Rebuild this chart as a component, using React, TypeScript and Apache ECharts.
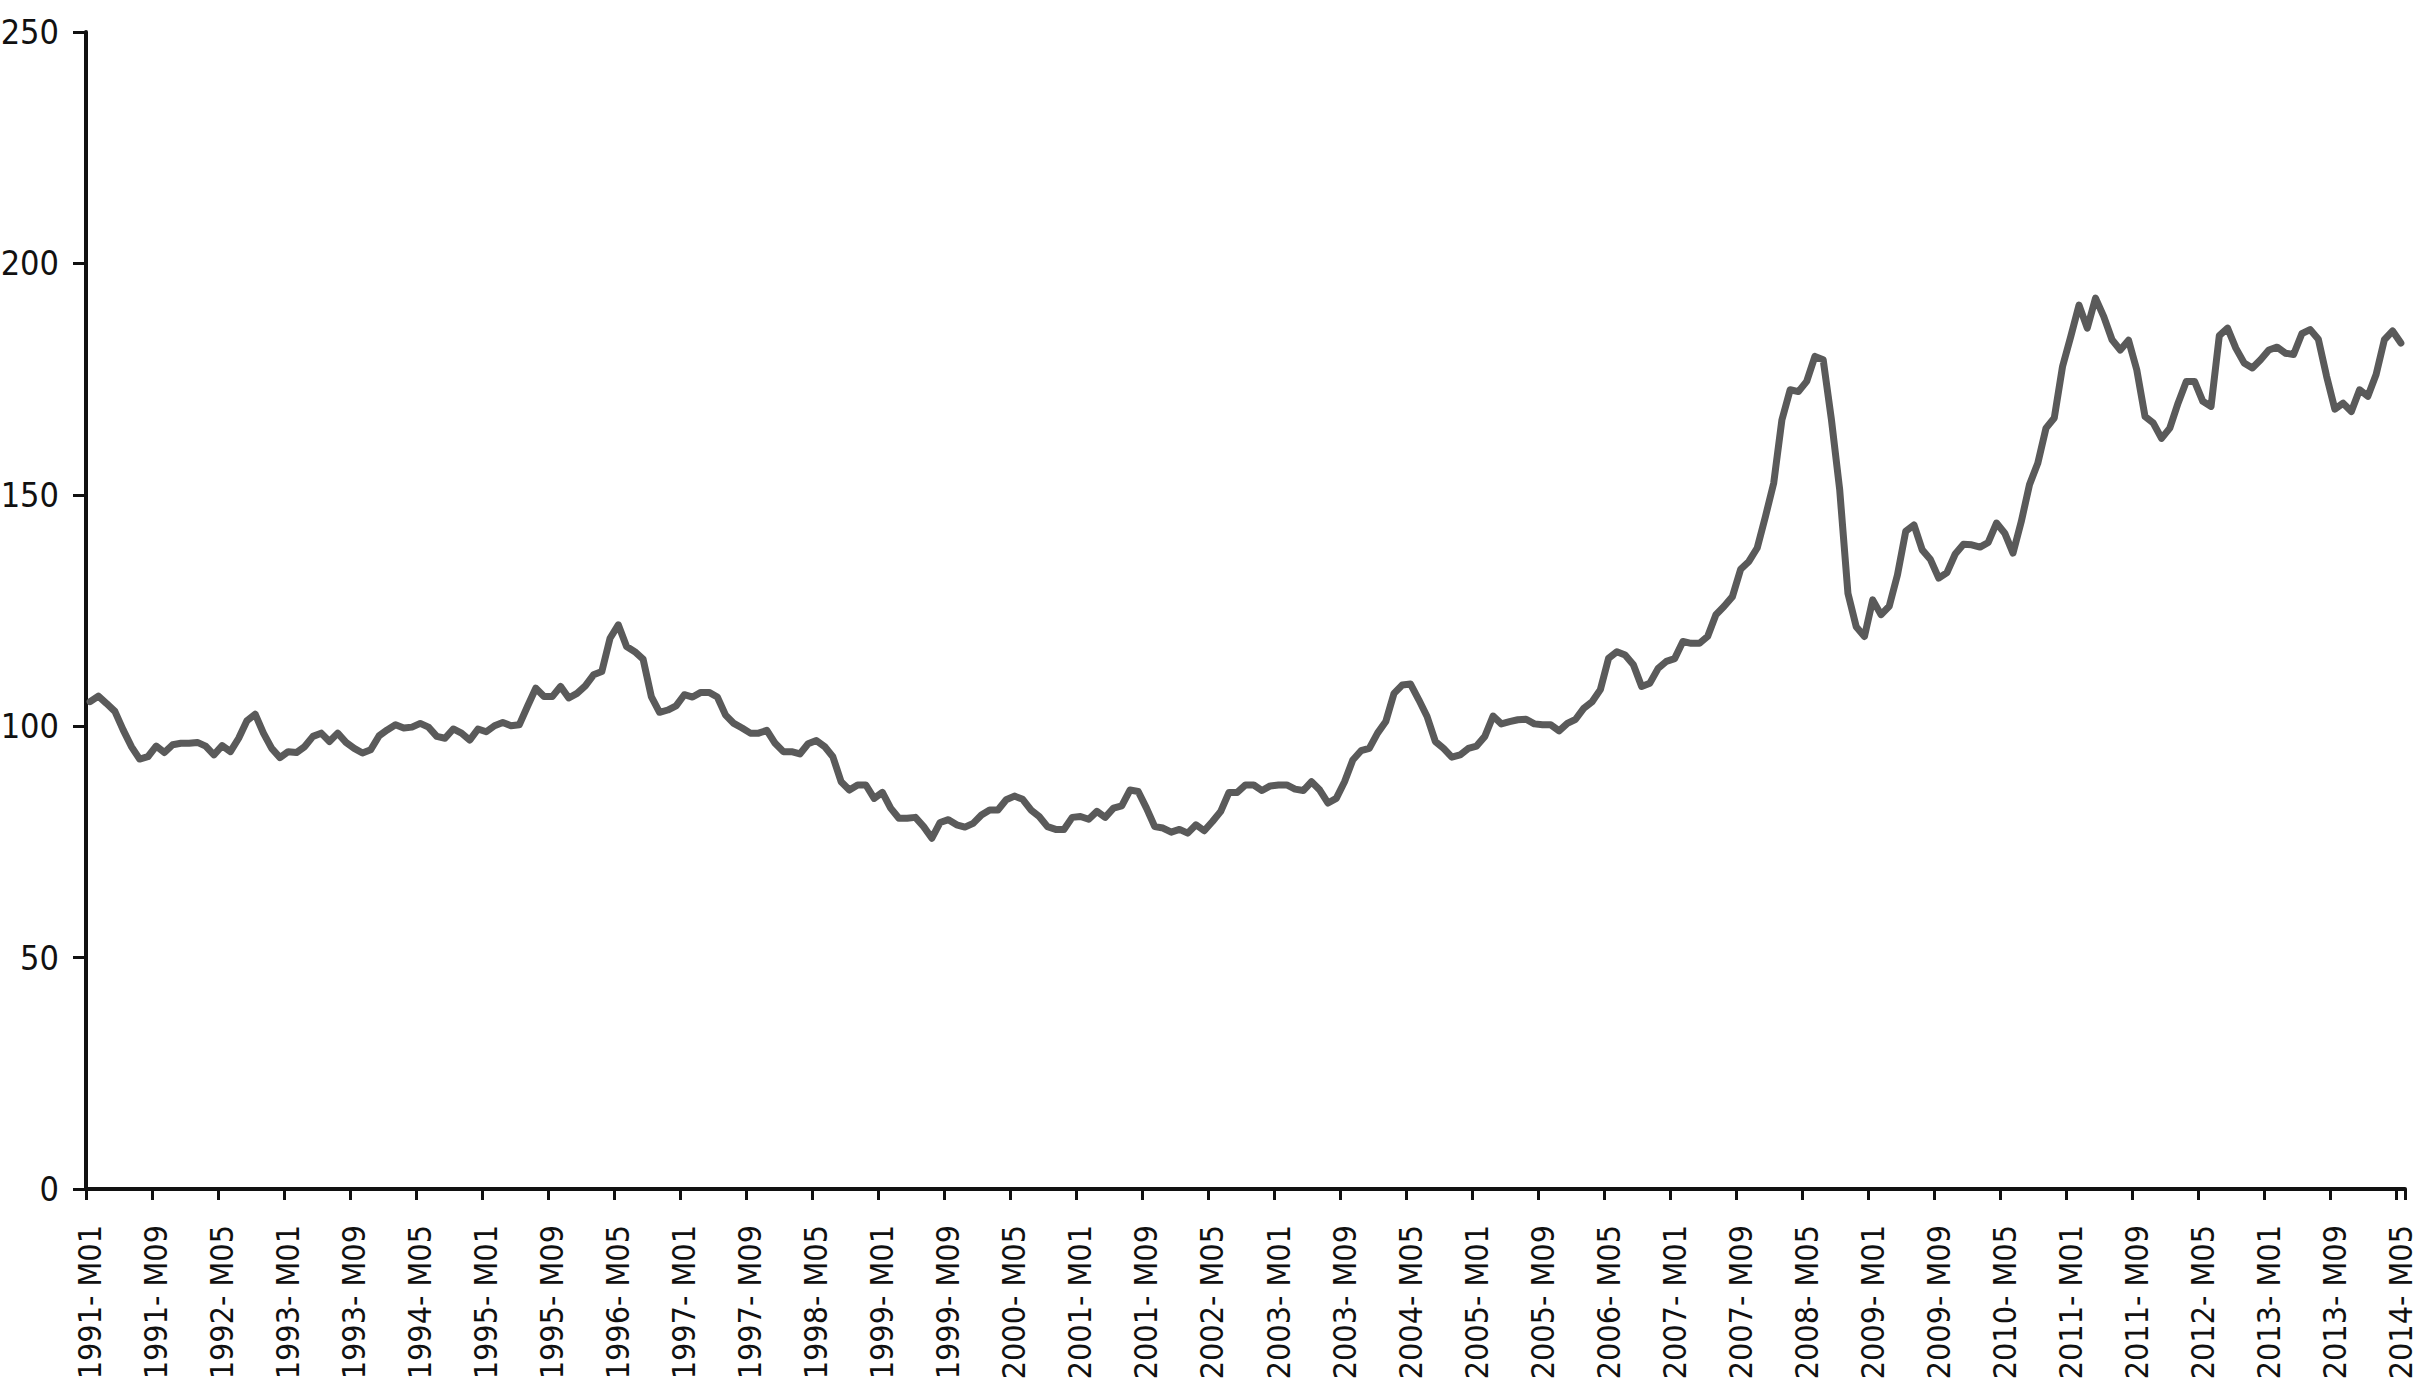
import React, { useEffect, useRef } from "react";
import * as echarts from "echarts";

// Monthly index values (1991-M01 .. 2014-M05)
const v1991 = [105.3, 106.5, 104.9, 103.2, 99.2, 95.6, 92.9, 93.4, 95.7, 94.3, 96.0, 96.3];
const v1992 = [96.3, 96.5, 95.7, 93.8, 95.8, 94.5, 97.4, 101.2, 102.6, 98.5, 95.2, 93.2];
const v1993 = [94.5, 94.3, 95.6, 97.8, 98.5, 96.7, 98.5, 96.5, 95.2, 94.2, 94.9, 97.9];
const v1994 = [99.2, 100.3, 99.6, 99.8, 100.6, 99.8, 97.8, 97.4, 99.4, 98.5, 97.0, 99.4];
const v1995 = [98.8, 100.1, 100.8, 100.1, 100.3, 104.3, 108.2, 106.4, 106.4, 108.6, 106.1, 107.1];
const v1996 = [108.7, 111.1, 111.8, 119.0, 121.9, 117.2, 116.1, 114.5, 106.4, 103.0, 103.5, 104.4];
const v1997 = [106.8, 106.3, 107.3, 107.3, 106.3, 102.4, 100.6, 99.6, 98.5, 98.5, 99.1, 96.3];
const v1998 = [94.5, 94.5, 94.0, 96.2, 96.9, 95.6, 93.4, 88.0, 86.2, 87.3, 87.3, 84.4];
const v1999 = [85.7, 82.3, 80.1, 80.1, 80.3, 78.3, 75.8, 79.2, 79.8, 78.7, 78.2, 79.0];
const v2000 = [80.8, 81.9, 81.9, 84.1, 84.9, 84.2, 81.9, 80.5, 78.3, 77.7, 77.7, 80.3];
const v2001 = [80.5, 79.9, 81.6, 80.3, 82.3, 82.8, 86.2, 85.9, 82.3, 78.3, 78.0, 77.1];
const v2002 = [77.7, 76.9, 78.7, 77.4, 79.4, 81.6, 85.7, 85.7, 87.3, 87.3, 86.1, 87.1];
const v2003 = [87.3, 87.3, 86.4, 86.1, 88.0, 86.2, 83.4, 84.4, 88.0, 92.7, 94.7, 95.2];
const v2004 = [98.5, 101.0, 107.1, 108.9, 109.1, 105.7, 102.1, 96.7, 95.2, 93.3, 93.8, 95.2];
const v2005 = [95.7, 97.8, 102.2, 100.5, 101.0, 101.4, 101.5, 100.5, 100.3, 100.3, 99.0, 100.6];
const v2006 = [101.5, 103.9, 105.3, 107.9, 114.7, 116.1, 115.4, 113.3, 108.6, 109.3, 112.5, 114.0];
const v2007 = [114.6, 118.3, 117.9, 117.9, 119.4, 124.1, 125.9, 128.0, 133.9, 135.6, 138.5, 145.3];
const v2008 = [152.5, 166.2, 172.7, 172.3, 174.5, 179.9, 179.2, 166.2, 151.1, 128.7, 121.5, 119.4];
const v2009 = [127.3, 124.1, 125.9, 132.7, 142.1, 143.5, 138.1, 136.0, 132.0, 133.2, 137.2, 139.3];
const v2010 = [139.2, 138.7, 139.7, 143.9, 141.7, 137.4, 144.2, 152.2, 156.8, 164.4, 166.6, 177.7];
const v2011 = [184.2, 191.0, 186.0, 192.5, 188.5, 183.5, 181.3, 183.4, 177.0, 166.9, 165.5, 162.2];
const v2012 = [164.4, 169.8, 174.5, 174.5, 170.2, 169.1, 184.4, 186.0, 181.7, 178.5, 177.4, 179.2];
const v2013 = [181.3, 181.9, 180.6, 180.3, 184.8, 185.7, 183.6, 175.6, 168.5, 169.8, 168.0, 172.7];
const v2014 = [171.3, 176.0, 183.5, 185.4, 182.8];

const values = [
  ...v1991, ...v1992, ...v1993, ...v1994, ...v1995, ...v1996, ...v1997, ...v1998,
  ...v1999, ...v2000, ...v2001, ...v2002, ...v2003, ...v2004, ...v2005, ...v2006,
  ...v2007, ...v2008, ...v2009, ...v2010, ...v2011, ...v2012, ...v2013, ...v2014,
];

const years = [
  1991, 1992, 1993, 1994, 1995, 1996, 1997, 1998, 1999, 2000, 2001, 2002,
  2003, 2004, 2005, 2006, 2007, 2008, 2009, 2010, 2011, 2012, 2013, 2014,
];
const months = ["M01", "M02", "M03", "M04", "M05", "M06", "M07", "M08", "M09", "M10", "M11", "M12"];
const categories = years
  .flatMap((y) => months.map((m) => `${y}- ${m}`))
  .slice(0, values.length);

const yTicks = { min: 0, max: 250, interval: 50 };

const FONT = "'Liberation Sans Narrow', 'DejaVu Sans Condensed', 'Roboto Condensed', 'Liberation Sans', sans-serif";

export default function App() {
  const ref = useRef<HTMLDivElement>(null);
  useEffect(() => {
    if (!ref.current) return;
    const chart = echarts.init(ref.current, null, { renderer: "svg" });
    chart.setOption({
      animation: false,
      backgroundColor: "#ffffff",
      grid: {
        left: 86,
        right: 19,
        top: 32,
        bottom: 192,
        containLabel: false,
        outerBoundsMode: "none",
      },
      xAxis: {
        type: "category",
        data: categories,
        boundaryGap: true,
        axisLine: { show: true, lineStyle: { color: "#111111", width: 4 } },
        axisTick: {
          show: true,
          interval: 7,
          length: 11,
          inside: false,
          lineStyle: { color: "#111111", width: 3 },
        },
        axisLabel: {
          show: true,
          interval: 7,
          rotate: 90,
          margin: 36,
          color: "#111111",
          fontSize: 32,
          fontFamily: FONT,
        },
        splitLine: { show: false },
      },
      yAxis: {
        type: "value",
        min: yTicks.min,
        max: yTicks.max,
        interval: yTicks.interval,
        axisLine: { show: true, lineStyle: { color: "#111111", width: 4 } },
        axisTick: { show: true, length: 13, lineStyle: { color: "#111111", width: 3 } },
        axisLabel: {
          show: true,
          margin: 27,
          color: "#111111",
          fontSize: 34,
          fontFamily: FONT,
          verticalAlign: "middle",
          padding: [0, 0, 26, 0],
        },
        splitLine: { show: false },
      },
      series: [
        {
          type: "line",
          data: values,
          showSymbol: false,
          symbol: "none",
          lineStyle: { color: "#5a5a5a", width: 7, cap: "round", join: "round" },
          itemStyle: { color: "#5a5a5a" },
        },
      ],
    });
    return () => chart.dispose();
  }, []);
  return (
    <div
      ref={ref}
      style={{ position: "absolute", left: 0, top: 0, width: 2424, height: 1381 }}
    />
  );
}
